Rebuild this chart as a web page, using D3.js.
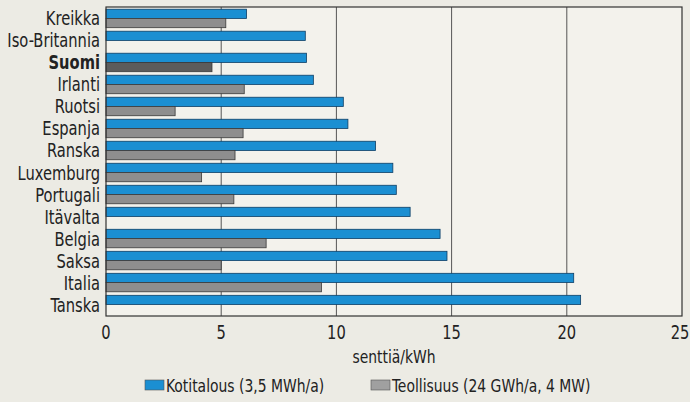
<!DOCTYPE html>
<html>
<head>
<meta charset="utf-8">
<script src="https://cdn.jsdelivr.net/npm/d3@7/dist/d3.min.js"></script>
<style>
	body { margin: 0; background: #ecebe4; }
	text { font-family: "DejaVu Sans Condensed", "Liberation Sans Narrow", sans-serif; fill: #222; }
</style>
</head>
<body>
<svg id="chart" width="690" height="402"></svg>
<script>
var countries = ["Kreikka","Iso-Britannia","Suomi","Irlanti","Ruotsi","Espanja","Ranska","Luxemburg","Portugali","Itävalta","Belgia","Saksa","Italia","Tanska"];
// Kotitalous (3,5 MWh/a)
var household = [6.1, 8.65, 8.7, 9.0, 10.3, 10.5, 11.7, 12.45, 12.6, 13.2, 14.5, 14.8, 20.3, 20.6];
// Teollisuus (24 GWh/a, 4 MW), null = no bar
var industry = [5.2, null, 4.6, 6.0, 3.0, 5.95, 5.6, 4.15, 5.55, null, 6.95, 5.0, 9.35, null];
var xTicks = [0, 5, 10, 15, 20, 25];
var legendLabels = ["Kotitalous (3,5 MWh/a)", "Teollisuus (24 GWh/a, 4 MW)"];

var margin = {top: 7, right: 8, bottom: 86, left: 106},
	width = 690 - margin.left - margin.right,
	height = 402 - margin.top - margin.bottom;

var svg = d3.select("#chart");
var g = svg.append("g")
	.attr("transform", "translate(" + margin.left + "," + margin.top + ")");

var x = d3.scaleLinear().domain([0, 25]).range([0, width]);
var y = d3.scaleBand().domain(countries).range([0, height]).paddingInner(0.16).paddingOuter(0.1);

// narrow text, the original uses a condensed face
function label(parent, px, py, str, size, anchor) {
	return parent.append("text")
		.attr("transform", "translate(" + px + "," + py + ") scale(0.86,1)")
		.attr("text-anchor", anchor || "start")
		.style("font-size", size + "px")
		.text(str);
}

g.append("rect")
	.attr("width", width).attr("height", height)
	.attr("fill", "#f3f2ec");

// grid lines
g.selectAll(".grid")
	.data(xTicks.slice(1, -1))
	.enter().append("line")
	.attr("x1", function(d) { return x(d); })
	.attr("x2", function(d) { return x(d); })
	.attr("y1", 0).attr("y2", height)
	.attr("stroke", "#555").attr("stroke-width", 1);

var bh = y.bandwidth() / 2;

g.selectAll(".hh")
	.data(countries)
	.enter().append("rect")
	.attr("x", 0)
	.attr("y", function(d) { return y(d); })
	.attr("width", function(d, i) { return x(household[i]); })
	.attr("height", bh)
	.attr("fill", "#1b8fd2")
	.attr("stroke", "#0d3f66").attr("stroke-width", 0.8);

g.selectAll(".ind")
	.data(countries.filter(function(d, i) { return industry[i] != null; }))
	.enter().append("rect")
	.attr("x", 0)
	.attr("y", function(d) { return y(d) + bh; })
	.attr("width", function(d) { return x(industry[countries.indexOf(d)]); })
	.attr("height", bh)
	.attr("fill", function(d) { return d == "Suomi" ? "#5c5c5c" : "#8e8e8e"; })
	.attr("stroke", "#3a3a3a").attr("stroke-width", 0.8);

// frame
g.append("rect")
	.attr("width", width).attr("height", height)
	.attr("fill", "none").attr("stroke", "#333").attr("stroke-width", 1.2);

// country labels
countries.forEach(function(d) {
	label(g, -6, y(d) + y.bandwidth() / 2 + 7, d, 19, "end")
		.style("font-weight", d == "Suomi" ? "bold" : "normal");
});

// x tick labels
xTicks.forEach(function(d) {
	label(g, d == 25 ? x(d) - 2 : x(d), height + 23, d, 19, "middle");
});

label(g, x(12.5), height + 47, "senttiä/kWh", 18, "middle");

// legend
var legend = svg.append("g").attr("transform", "translate(145,380)");
var legendX = [0, 226];
var legendFill = ["#1b8fd2", "#a0a0a0"];
legendLabels.forEach(function(l, i) {
	legend.append("rect")
		.attr("x", legendX[i]).attr("y", 0)
		.attr("width", 19).attr("height", 10)
		.attr("fill", legendFill[i])
		.attr("stroke", "#555").attr("stroke-width", 0.6);
	label(legend, legendX[i] + 21, 12, l, 18);
});
</script>
</body>
</html>
